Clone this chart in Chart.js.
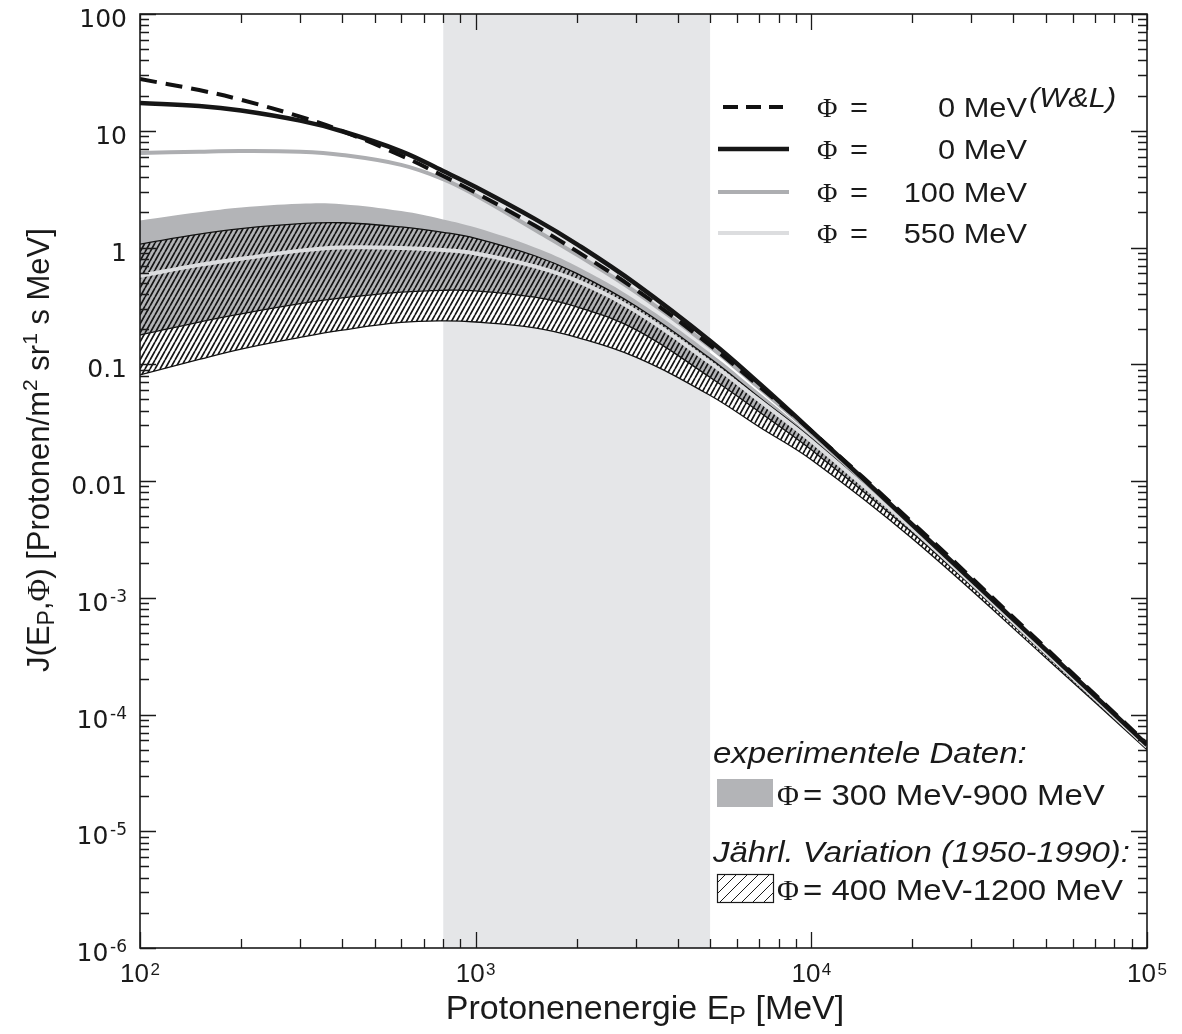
<!DOCTYPE html>
<html>
<head>
<meta charset="utf-8">
<script src="https://cdn.jsdelivr.net/npm/chart.js@4.4.0/dist/chart.umd.min.js"></script>
<style>
  html, body { margin: 0; padding: 0; background: #fff; }
</style>
</head>
<body>
<canvas id="fluxChart" width="1182" height="1034"></canvas>
<script>
// energies in MeV, fluxes in Protonen/(m2 sr s MeV)
const energies     = [100, 150, 200, 300, 400, 600, 800, 1000, 1500, 2000, 3000, 5000, 7000, 10000, 20000, 50000, 100000];
const fluxPhi0WL   = [27.7, 22.3, 18.4, 13.2, 9.95, 6.12, 4.1, 2.95, 1.54, 0.93, 0.436, 0.145, 0.0646, 0.0268, 0.0044, 3.7e-4, 5.6e-5];
const fluxPhi0     = [17.3, 16.3, 14.9, 12.2, 9.9, 6.67, 4.52, 3.3, 1.76, 1.07, 0.488, 0.158, 0.0684, 0.0269, 0.00422, 3.58e-4, 5.5e-5];
const fluxPhi100   = [6.45, 6.62, 6.7, 6.6, 6.2, 5.1, 3.85, 2.8, 1.42, 0.87, 0.415, 0.141, 0.0625, 0.0258, 0.00415, 3.55e-4, 5.45e-5];
const fluxPhi300   = [1.70, 2.0, 2.2, 2.37, 2.35, 2.05, 1.74, 1.48, 1.0, 0.69, 0.355, 0.125, 0.057, 0.0242, 0.00405, 3.5e-4, 5.4e-5];
const fluxPhi400   = [1.07, 1.3, 1.45, 1.6, 1.63, 1.5, 1.35, 1.2, 0.85, 0.6, 0.315, 0.112, 0.052, 0.0232, 0.004, 3.45e-4, 5.35e-5];
const fluxPhi550   = [0.57, 0.71, 0.8, 0.94, 1.0, 0.99, 0.95, 0.89, 0.69, 0.52, 0.285, 0.103, 0.049, 0.022, 0.0039, 3.38e-4, 5.3e-5];
const fluxPhi900   = [0.178, 0.23, 0.27, 0.33, 0.37, 0.415, 0.43, 0.425, 0.375, 0.31, 0.198, 0.077, 0.039, 0.0185, 0.0036, 3.22e-4, 5.15e-5];
const fluxPhi1200  = [0.081, 0.11, 0.135, 0.17, 0.196, 0.228, 0.235, 0.23, 0.205, 0.17, 0.115, 0.054, 0.029, 0.0152, 0.0032, 3.05e-4, 5.0e-5];
const shadedRange  = [800, 5000];

const xTickValues = [100, 1000, 10000, 100000];
const xTickLabels = ['10|2', '10|3', '10|4', '10|5'];
const yTickValues = [100, 10, 1, 0.1, 0.01, 1e-3, 1e-4, 1e-5, 1e-6];
const yTickLabels = ['100', '10', '1', '0.1', '0.01', '10|-3', '10|-4', '10|-5', '10|-6'];

const SANS = '"Liberation Sans", Arial, sans-serif';
const SERIF = '"Liberation Serif", "Times New Roman", serif';

function pts(ys) {
    return energies.map((e, i) => ({ x: e, y: ys[i] }));
}

function makeHatch() {
    const c = document.createElement('canvas');
    c.width = 5; c.height = 9;
    const g = c.getContext('2d');
    g.strokeStyle = '#151515';
    g.lineWidth = 1.7;
    g.beginPath();
    g.moveTo(-5, 9); g.lineTo(0, 0);
    g.moveTo(0, 9); g.lineTo(5, 0);
    g.moveTo(5, 9); g.lineTo(10, 0);
    g.stroke();
    return g.createPattern(c, 'repeat');
}

// text made of [text, font, dy] runs, sx = horizontal stretch
function runsWidth(ctx, runs, sx) {
    let w = 0;
    runs.forEach(r => { ctx.font = r[1]; w += ctx.measureText(r[0]).width; });
    return w * sx;
}
function drawRuns(ctx, runs, x, y, sx, align) {
    const w = runsWidth(ctx, runs, sx);
    let cx = align === 'center' ? x - w / 2 : align === 'right' ? x - w : x;
    ctx.textAlign = 'left';
    ctx.textBaseline = 'alphabetic';
    runs.forEach(r => {
        ctx.font = r[1];
        ctx.save();
        ctx.translate(cx, y + (r[2] || 0));
        ctx.scale(sx, 1);
        ctx.fillText(r[0], 0, 0);
        ctx.restore();
        cx += ctx.measureText(r[0]).width * sx;
    });
    return w;
}

const axesAndText = {
    id: 'axesAndText',
    afterDraw(chart) {
        const ctx = chart.ctx;
        const xs = chart.scales.x, ys = chart.scales.y;
        const { left, right, top, bottom } = chart.chartArea;
        ctx.save();
        ctx.fillStyle = '#1a1a1a';
        ctx.strokeStyle = '#1a1a1a';

        // inward ticks on all four sides
        ctx.lineWidth = 1.3;
        ctx.beginPath();
        for (let d = 2; d <= 5; d++) {
            for (let m = 1; m <= 9; m++) {
                const v = m * Math.pow(10, d);
                if (v > 100000) break;
                const px = Math.round(xs.getPixelForValue(v)) + 0.5;
                const len = m === 1 ? 16 : 9;
                ctx.moveTo(px, bottom); ctx.lineTo(px, bottom - len);
                ctx.moveTo(px, top); ctx.lineTo(px, top + len);
            }
        }
        for (let d = -6; d <= 2; d++) {
            for (let m = 1; m <= 9; m++) {
                const v = m * Math.pow(10, d);
                if (v > 100) break;
                const py = Math.round(ys.getPixelForValue(v)) + 0.5;
                const len = m === 1 ? 16 : 9;
                ctx.moveTo(left, py); ctx.lineTo(left + len, py);
                ctx.moveTo(right, py); ctx.lineTo(right - len, py);
            }
        }
        ctx.stroke();
        ctx.lineWidth = 1.6;
        ctx.strokeRect(left, top, right - left, bottom - top);

        // y tick labels
        yTickValues.forEach((v, i) => {
            const py = ys.getPixelForValue(v);
            const parts = yTickLabels[i].split('|');
            const runs = [[parts[0], '25px "DejaVu Sans", ' + SANS, 0]];
            if (parts[1]) {
                runs.push([' ', '6px ' + SANS, 0]);
                runs.push([parts[1], '17px "DejaVu Sans", ' + SANS, -9]);
            }
            drawRuns(ctx, runs, 127, py + 13, 1, 'right');
        });

        // x tick labels
        xTickValues.forEach((v, i) => {
            const px = xs.getPixelForValue(v);
            const parts = xTickLabels[i].split('|');
            drawRuns(ctx, [[parts[0], '26px ' + SANS, 0], [' ', '5px ' + SANS, 0], [parts[1], '17px ' + SANS, -7]], px, 982, 1, 'center');
        });

        // x axis title
        drawRuns(ctx, [['Protonenenergie E', '34px ' + SANS, 0], ['P', '25px ' + SANS, 5], [' [MeV]', '34px ' + SANS, 0]], 645, 1019, 1, 'center');

        // y axis title (rotated)
        ctx.save();
        ctx.translate(49, 450);
        ctx.rotate(-Math.PI / 2);
        drawRuns(ctx, [
            ['J(E', '31px ' + SANS, 0], ['P', '23px ' + SANS, 5], [',', '31px ' + SANS, 0],
            ['\u03A6', '31px ' + SERIF, 0], [') [Protonen/m', '31px ' + SANS, 0],
            ['2', '21px ' + SANS, -12], [' sr', '31px ' + SANS, 0], ['1', '21px ' + SANS, -12],
            [' s MeV]', '31px ' + SANS, 0]
        ], 0, 0, 1, 'center');
        ctx.restore();

        // upper legend (curves)
        const rows = [
            { y: 107, color: '#111', width: 4, dash: [15, 8], x0: 723, x1: 783, value: '0 MeV' },
            { y: 149, color: '#161616', width: 4.5, dash: [], x0: 718, x1: 789, value: '0 MeV' },
            { y: 192, color: '#adaeb1', width: 4, dash: [], x0: 718, x1: 789, value: '100 MeV' },
            { y: 233, color: '#dcdddf', width: 4, dash: [], x0: 718, x1: 789, value: '550 MeV' }
        ];
        rows.forEach(r => {
            ctx.save();
            ctx.strokeStyle = r.color;
            ctx.lineWidth = r.width;
            ctx.setLineDash(r.dash);
            ctx.beginPath();
            ctx.moveTo(r.x0, r.y); ctx.lineTo(r.x1, r.y);
            ctx.stroke();
            ctx.restore();
            drawRuns(ctx, [['\u03A6', '28px ' + SERIF, 0]], 817, r.y + 10, 1, 'left');
            drawRuns(ctx, [['=', '28px ' + SANS, 0]], 850, r.y + 10, 1.1, 'left');
            drawRuns(ctx, [[r.value, '28px ' + SANS, 0]], 1027, r.y + 10, 1.1, 'right');
        });
        drawRuns(ctx, [['(W&L)', 'italic 28px ' + SANS, 0]], 1029, 107, 1.1, 'left');

        // lower legend (bands)
        drawRuns(ctx, [['experimentele Daten:', 'italic 30px ' + SANS, 0]], 713, 763, 1.1, 'left');
        ctx.fillStyle = '#b3b4b7';
        ctx.fillRect(717, 779, 56, 28);
        ctx.fillStyle = '#1a1a1a';
        drawRuns(ctx, [['\u03A6', '30px ' + SERIF, 0]], 777, 805, 1, 'left');
        drawRuns(ctx, [['= 300 MeV-900 MeV', '30px ' + SANS, 0]], 803, 805, 1.1, 'left');

        drawRuns(ctx, [['J\u00e4hrl. Variation (1950-1990):', 'italic 30px ' + SANS, 0]], 713, 862, 1.1, 'left');
        ctx.save();
        ctx.beginPath();
        ctx.rect(717, 874, 56, 28);
        ctx.clip();
        ctx.lineWidth = 1;
        ctx.beginPath();
        for (let k = -30; k < 70; k += 11) {
            ctx.moveTo(717 + k, 902); ctx.lineTo(717 + k + 28, 874);
        }
        ctx.stroke();
        ctx.restore();
        ctx.lineWidth = 1.2;
        ctx.strokeRect(717.5, 874.5, 56, 28);
        drawRuns(ctx, [['\u03A6', '30px ' + SERIF, 0]], 777, 900, 1, 'left');
        drawRuns(ctx, [['= 400 MeV-1200 MeV', '30px ' + SANS, 0]], 803, 900, 1.1, 'left');

        ctx.restore();
    }
};

const hatch = makeHatch();
const clear = 'rgba(0,0,0,0)';

const ctx = document.getElementById('fluxChart').getContext('2d');
new Chart(ctx, {
    type: 'line',
    data: {
        datasets: [
            { label: 'Phi 0 MeV (W&L)', data: pts(fluxPhi0WL), borderColor: '#111', borderWidth: 4, borderDash: [17, 9], fill: false },
            { label: 'Phi 0 MeV', data: pts(fluxPhi0), borderColor: '#161616', borderWidth: 4.5, fill: false },
            { label: 'Phi 100 MeV', data: pts(fluxPhi100), borderColor: '#adaeb1', borderWidth: 4, fill: false },
            { label: 'Phi 550 MeV', data: pts(fluxPhi550), borderColor: '#dcdddf', borderWidth: 4, fill: false },
            { label: 'Phi 400 MeV', data: pts(fluxPhi400), borderColor: '#111', borderWidth: 1.3, fill: { target: 6 }, backgroundColor: hatch },
            { label: 'Phi 900 MeV', data: pts(fluxPhi900), borderColor: '#111', borderWidth: 1.3, fill: false },
            { label: 'Phi 1200 MeV', data: pts(fluxPhi1200), borderColor: '#111', borderWidth: 1.3, fill: { target: 5 }, backgroundColor: '#ffffff' },
            { label: 'Phi 300 MeV', data: pts(fluxPhi300), borderColor: clear, borderWidth: 0, fill: { target: 5 }, backgroundColor: '#b3b4b7' },
            { label: 'band', data: [{ x: shadedRange[0], y: 100 }, { x: shadedRange[1], y: 100 }], borderColor: clear, borderWidth: 0, fill: 'start', backgroundColor: '#e5e6e8', tension: 0 }
        ]
    },
    options: {
        responsive: false,
        animation: false,
        devicePixelRatio: 1,
        layout: { padding: { left: 140, right: 35, top: 14, bottom: 86 } },
        elements: {
            point: { radius: 0, hoverRadius: 0 },
            line: { tension: 0.4, borderCapStyle: 'butt' }
        },
        plugins: {
            legend: { display: false },
            tooltip: { enabled: false },
            filler: { propagate: false }
        },
        scales: {
            x: { type: 'logarithmic', min: 100, max: 100000, display: false },
            y: { type: 'logarithmic', min: 1e-6, max: 100, display: false }
        }
    },
    plugins: [axesAndText]
});
</script>
</body>
</html>
